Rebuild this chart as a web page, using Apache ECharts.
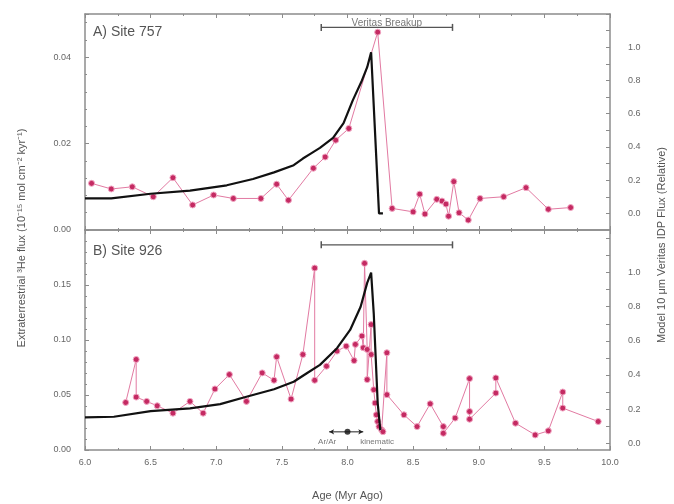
<!DOCTYPE html>
<html>
<head>
<meta charset="utf-8">
<script src="https://cdn.jsdelivr.net/npm/echarts@6/dist/echarts.min.js"></script>
<style>html,body{margin:0;padding:0;background:#fff}#main{width:674px;height:504px}</style>
</head>
<body>
<div id="main"></div>
<script>
// Site 757 measured 3He flux
var age757 = [6.05,6.20,6.36,6.52,6.67,6.82,6.98,7.13,7.34,7.46,7.55,7.74,7.83,7.91,8.01,8.23,8.34,8.50,8.55,8.59,8.68,8.72,8.75,8.77,8.81,8.85,8.92,9.01,9.19,9.36,9.53,9.70];
var flux757 = [0.0108,0.0095,0.0100,0.0077,0.0121,0.0058,0.0081,0.0073,0.0073,0.0106,0.0069,0.0143,0.0169,0.0208,0.0235,0.0458,0.0050,0.0042,0.0083,0.0037,0.0071,0.0067,0.0060,0.0032,0.0112,0.0040,0.0023,0.0073,0.0077,0.0098,0.0048,0.0052];

// Site 926 measured 3He flux
var age926 = [6.31,6.39,6.39,6.47,6.55,6.67,6.80,6.90,6.99,7.10,7.23,7.35,7.44,7.46,7.57,7.66,7.75,7.75,7.84,7.92,7.99,8.05,8.06,8.11,8.12,8.13,8.15,8.15,8.18,8.18,8.20,8.21,8.22,8.23,8.24,8.26,8.27,8.30,8.30,8.43,8.53,8.63,8.73,8.73,8.82,8.93,8.93,8.93,9.13,9.13,9.28,9.43,9.53,9.64,9.64,9.91];
var flux926 = [0.0432,0.0823,0.0481,0.0442,0.0402,0.0335,0.0442,0.0335,0.0555,0.0686,0.0442,0.0701,0.0634,0.0847,0.0463,0.0868,0.1654,0.0634,0.0762,0.0899,0.0944,0.0813,0.0960,0.1036,0.0930,0.1697,0.0914,0.0640,0.1140,0.0868,0.0548,0.0427,0.0320,0.0259,0.0213,0.0183,0.0167,0.0884,0.0503,0.0320,0.0213,0.0420,0.0213,0.0152,0.0290,0.0649,0.0350,0.0280,0.0518,0.0655,0.0244,0.0137,0.0174,0.0527,0.0381,0.0259];

// model IDP flux (relative), right axes
var modelAge757 = [6.0,6.2,6.5,6.8,7.08,7.28,7.44,7.59,7.66,7.72,7.79,7.89,7.97,8.04,8.11,8.15,8.18,8.24,8.27];
var model757 = [0.09,0.09,0.118,0.137,0.169,0.207,0.247,0.29,0.33,0.36,0.394,0.454,0.543,0.68,0.80,0.88,0.97,0.0,0.0];
var modelAge926 = [6.0,6.22,6.5,6.8,7.03,7.23,7.44,7.59,7.69,7.79,7.92,8.02,8.1,8.15,8.18,8.2,8.23,8.25];
var model926 = [0.151,0.155,0.188,0.204,0.229,0.272,0.316,0.36,0.41,0.459,0.557,0.664,0.80,0.94,1.0,0.76,0.235,0.076];

// annotations
var breakupRange = [7.8, 8.8];
var breakupLevel = [0.0469, 0.1865];
var breakupText = 'Veritas Breakup';
var arAge = 8.0, arRange = [7.86, 8.12], arLevel = 0.0165;
var arLabels = [['Ar/Ar', 7.845, 0.0073], ['kinematic', 8.225, 0.0073]];

var relTicks = [0,0.1,0.2,0.3,0.4,0.5,0.6,0.7,0.8,0.9,1.0,1.1,1.2];
var relLabels = [0,0.2,0.4,0.6,0.8,1.0];

function zip(a, b) { return a.map(function (v, i) { return [v, b[i]]; }); }

var frame = '#8c8c8c', txt = '#666', font = 'Liberation Sans';
var pink = '#e27aa2', dot = '#c42a62';

function xAx(grid, pos, labels) {
  return {
    type: 'value', gridIndex: grid, position: pos, min: 6, max: 10, interval: 0.5,
    axisLine: { show: true, onZero: false, lineStyle: { color: frame, width: 1.5 } },
    axisTick: { show: true, inside: true, length: 4, lineStyle: { color: frame } },
    minorTick: { show: true, splitNumber: 2, length: 2, lineStyle: { color: frame } },
    axisLabel: { show: labels, margin: 8, fontSize: 9, color: txt, fontFamily: font,
      formatter: function (v) { return v.toFixed(1); } },
    splitLine: { show: false }
  };
}
function yLeft(grid, max, step, minor) {
  return {
    type: 'value', gridIndex: grid, position: 'left', min: 0, max: max, interval: step,
    axisLine: { show: true, lineStyle: { color: frame, width: 1.5 } },
    axisTick: { show: true, inside: true, length: 4, lineStyle: { color: frame } },
    minorTick: { show: true, splitNumber: minor, length: 2, lineStyle: { color: frame } },
    axisLabel: { showMaxLabel: false, margin: 14, fontSize: 9, color: txt, fontFamily: font,
      formatter: function (v) { return v.toFixed(2); } },
    splitLine: { show: false }
  };
}
function yRight(grid, min, max) {
  return {
    type: 'value', gridIndex: grid, position: 'right', min: min, max: max,
    axisLine: { show: true, lineStyle: { color: frame, width: 1.5 } },
    axisTick: { show: true, inside: true, length: 4, lineStyle: { color: frame },
      customValues: relTicks.filter(function (v) { return v >= min && v <= max; }) },
    axisLabel: { margin: 18, fontSize: 9, color: txt, fontFamily: font, customValues: relLabels,
      formatter: function (v) { return v.toFixed(1); } },
    splitLine: { show: false }
  };
}

var measStyle = function (xi, yi, data) {
  return {
    type: 'line', xAxisIndex: xi, yAxisIndex: yi, data: data, silent: true,
    symbol: 'circle', symbolSize: 6,
    lineStyle: { color: pink, width: 1 },
    itemStyle: { color: dot, borderColor: '#f2a8c4', borderWidth: 1 }, z: 3
  };
};
var modelStyle = function (xi, yi, data) {
  return {
    type: 'line', xAxisIndex: xi, yAxisIndex: yi, data: data, silent: true,
    symbol: 'none', lineStyle: { color: '#111', width: 2.2 }, z: 4
  };
};
var bar = function (xi, yi, lvl) {
  return {
    type: 'line', xAxisIndex: xi, yAxisIndex: yi, silent: true,
    data: [[breakupRange[0], lvl], [breakupRange[1], lvl]],
    symbol: 'rect', symbolSize: [1.5, 7],
    lineStyle: { color: '#555', width: 1.2 }, itemStyle: { color: '#555' }, z: 5
  };
};

var chart = echarts.init(document.getElementById('main'));
chart.setOption({
  animation: false,
  backgroundColor: '#fff',
  grid: [
    { left: 85, top: 14, width: 525, height: 216 },
    { left: 85, top: 230, width: 525, height: 220 }
  ],
  title: [
    { text: 'A) Site 757', left: 88, top: 20, textStyle: { fontSize: 14, fontWeight: 'normal', color: '#555', fontFamily: font } },
    { text: 'B) Site 926', left: 88, top: 239, textStyle: { fontSize: 14, fontWeight: 'normal', color: '#555', fontFamily: font } }
  ],
  xAxis: [
    xAx(0, 'bottom', false),
    xAx(0, 'top', false),
    Object.assign(xAx(1, 'bottom', true), {
      name: 'Age (Myr Ago)', nameLocation: 'middle', nameGap: 40,
      nameTextStyle: { fontSize: 11, color: '#555', fontFamily: font }
    }),
    xAx(1, 'top', false)
  ],
  yAxis: [
    yLeft(0, 0.05, 0.02, 5),
    yRight(0, -0.1, 1.2),
    yLeft(1, 0.2, 0.05, 5),
    yRight(1, -0.04, 1.25)
  ],
  graphic: [
    { type: 'text', x: 22, y: 238, rotation: Math.PI / 2,
      style: { text: 'Extraterrestrial \u00b3He flux (10\u207b\u00b9\u2075 mol cm\u207b\u00b2 kyr\u207b\u00b9)',
        fill: '#555', font: '11px "Liberation Sans"', align: 'center', verticalAlign: 'middle' } },
    { type: 'text', x: 662, y: 245, rotation: Math.PI / 2,
      style: { text: 'Model 10 \u03bcm Veritas IDP Flux (Relative)',
        fill: '#555', font: '11px "Liberation Sans"', align: 'center', verticalAlign: 'middle' } }
  ],
  series: [
    measStyle(0, 0, zip(age757, flux757)),
    modelStyle(0, 1, zip(modelAge757, model757)),
    bar(0, 0, breakupLevel[0]),
    {
      type: 'scatter', xAxisIndex: 0, yAxisIndex: 0, silent: true, symbolSize: 0,
      data: [[(breakupRange[0] + breakupRange[1]) / 2, breakupLevel[0] + 0.0010]],
      label: { show: true, position: 'inside', formatter: breakupText, fontSize: 10, color: '#555', fontFamily: font }, z: 6
    },
    measStyle(2, 2, zip(age926, flux926)),
    modelStyle(2, 3, zip(modelAge926, model926)),
    bar(2, 2, breakupLevel[1]),
    {
      type: 'line', xAxisIndex: 2, yAxisIndex: 2, silent: true,
      data: [
        { value: [arRange[0], arLevel], symbolRotate: 90 },
        { value: [arRange[1], arLevel], symbolRotate: -90 }
      ],
      symbol: 'arrow', symbolSize: [4, 5],
      lineStyle: { color: '#222', width: 1 }, itemStyle: { color: '#222' }, z: 5
    },
    {
      type: 'scatter', xAxisIndex: 2, yAxisIndex: 2, silent: true, symbolSize: 6,
      data: [[arAge, arLevel]], itemStyle: { color: '#111' }, z: 6
    },
    {
      type: 'scatter', xAxisIndex: 2, yAxisIndex: 2, silent: true, symbolSize: 0,
      data: arLabels.map(function (d) { return { value: [d[1], d[2]], name: d[0] }; }),
      label: { show: true, position: 'inside', formatter: '{b}', fontSize: 8, color: '#555', fontFamily: font }, z: 6
    }
  ]
});
</script>
</body>
</html>
